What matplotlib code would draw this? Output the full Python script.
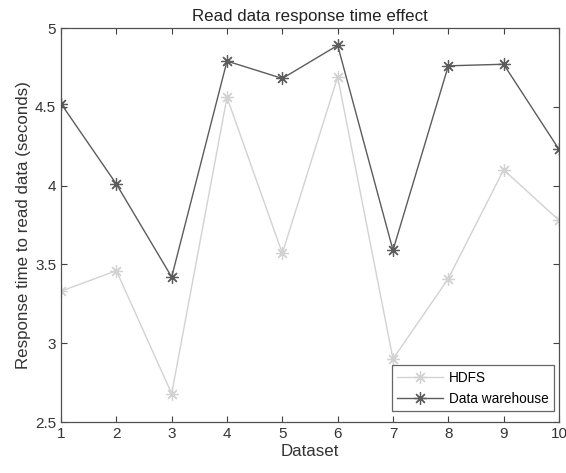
import matplotlib
matplotlib.use("Agg")
import matplotlib.pyplot as plt

datasets = [1, 2, 3, 4, 5, 6, 7, 8, 9, 10]
hdfs = [3.33, 3.46, 2.68, 4.56, 3.57, 4.69, 2.90, 3.41, 4.10, 3.78]
warehouse = [4.52, 4.01, 3.42, 4.79, 4.68, 4.89, 3.59, 4.76, 4.77, 4.23]
y_ticks = [2.5, 3, 3.5, 4, 4.5, 5]

plt.rcParams['font.family'] = ['Liberation Sans', 'DejaVu Sans']

fig = plt.figure(figsize=(5.66, 4.73), dpi=100)
ax = fig.add_axes([0.1078, 0.1078, 0.8798, 0.833])

star = (8, 2, 0)
ax.plot(datasets, hdfs, color='#d2d2d2', lw=1.0, marker=star, ms=9, mew=0.9,
        label='HDFS')
ax.plot(datasets, warehouse, color='#5c5c5c', lw=1.0, marker=star, ms=9, mew=0.9,
        label='Data warehouse')

ax.set_xlim(1, 10)
ax.set_ylim(2.5, 5)
ax.set_xticks(datasets)
ax.set_yticks(y_ticks)
ax.set_yticklabels(['2.5', '3', '3.5', '4', '4.5', '5'])
ax.tick_params(direction='in', top=True, right=True, length=4, width=0.8,
               colors='#404040', labelsize=11, labelcolor='#333333')
for s in ax.spines.values():
    s.set_color('#505050')
    s.set_linewidth(0.9)

ax.set_title('Read data response time effect', fontsize=12.2, color='#222222', pad=5)
ax.set_xlabel('Dataset', fontsize=12.2, color='#333333', labelpad=2)
ax.set_ylabel('Response time to read data (seconds)', fontsize=12.2, color='#333333',
              labelpad=3)

leg = ax.legend(loc='lower right', bbox_to_anchor=(0.990, 0.028), fontsize=9.8,
                frameon=True, fancybox=False, edgecolor='#404040', borderpad=0.4,
                handlelength=3.4, handletextpad=0.4, labelspacing=0.5,
                borderaxespad=0)
leg.get_frame().set_linewidth(0.9)

fig.savefig('out.png', dpi=100)
